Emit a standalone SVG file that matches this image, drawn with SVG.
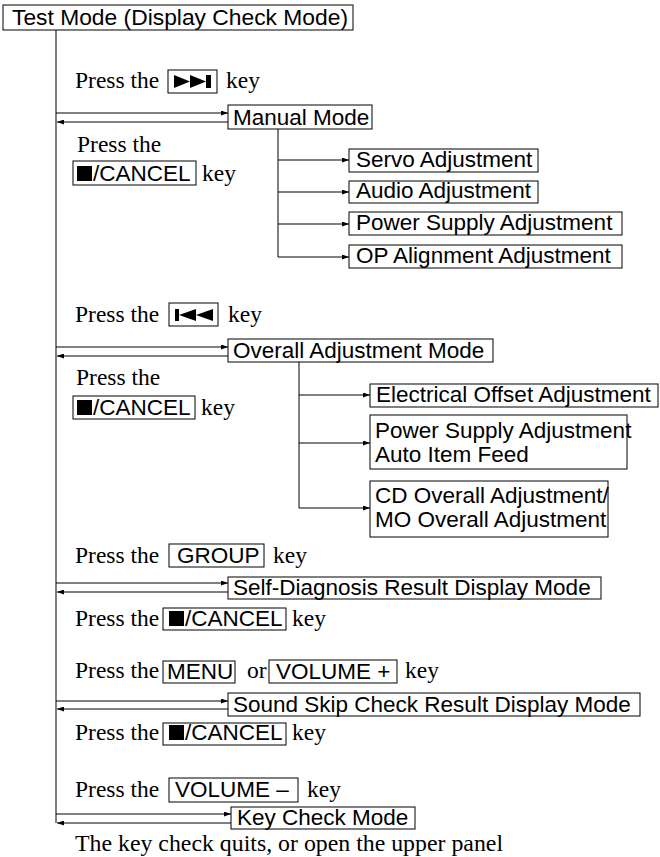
<svg xmlns="http://www.w3.org/2000/svg" width="660" height="857" viewBox="0 0 660 857">
<style>
.sans{font-family:"Liberation Sans",Arial,sans-serif;font-size:22.5px;fill:#000}
.serif{font-family:"Liberation Serif","Times New Roman",serif;font-size:23.5px;fill:#000}
.box{fill:#fff;stroke:#000;stroke-width:1}
.ln{stroke:#000;stroke-width:1;fill:none}
.main{stroke:#555;stroke-width:1.5;fill:none}
.ic{fill:#000;stroke:none}
</style>
<defs>
<marker id="ah" markerUnits="userSpaceOnUse" markerWidth="7" markerHeight="5" refX="7" refY="2.5" orient="auto">
<path d="M0,0 L7,2.5 L0,5 z" fill="#000"/>
</marker>
</defs>
<rect width="660" height="857" fill="#fff"/>

<g id="connectors">
<line class="main" x1="56" y1="30" x2="56" y2="823"/>
<line class="ln" x1="56" y1="113" x2="228" y2="113" marker-end="url(#ah)"/>
<line class="ln" x1="228" y1="122" x2="57" y2="122" marker-end="url(#ah)"/>
<line class="ln" x1="278" y1="129" x2="278" y2="257"/>
<line class="ln" x1="278" y1="160" x2="349" y2="160" marker-end="url(#ah)"/>
<line class="ln" x1="278" y1="192" x2="349" y2="192" marker-end="url(#ah)"/>
<line class="ln" x1="278" y1="224" x2="349" y2="224" marker-end="url(#ah)"/>
<line class="ln" x1="278" y1="257" x2="349" y2="257" marker-end="url(#ah)"/>
<line class="ln" x1="56" y1="347" x2="228" y2="347" marker-end="url(#ah)"/>
<line class="ln" x1="228" y1="356" x2="57" y2="356" marker-end="url(#ah)"/>
<line class="ln" x1="299" y1="362" x2="299" y2="508"/>
<line class="ln" x1="299" y1="395" x2="370" y2="395" marker-end="url(#ah)"/>
<line class="ln" x1="299" y1="443" x2="370" y2="443" marker-end="url(#ah)"/>
<line class="ln" x1="299" y1="508" x2="370" y2="508" marker-end="url(#ah)"/>
<line class="ln" x1="56" y1="583" x2="228" y2="583" marker-end="url(#ah)"/>
<line class="ln" x1="228" y1="592" x2="57" y2="592" marker-end="url(#ah)"/>
<line class="ln" x1="56" y1="701" x2="228" y2="701" marker-end="url(#ah)"/>
<line class="ln" x1="228" y1="709" x2="57" y2="709" marker-end="url(#ah)"/>
<line class="ln" x1="56" y1="814" x2="231" y2="814" marker-end="url(#ah)"/>
<line class="ln" x1="231" y1="823" x2="57" y2="823" marker-end="url(#ah)"/>
</g>

<g id="test-mode">
<rect class="box" x="3" y="5" width="350" height="25"/>
<text class="sans" x="12" y="25" textLength="336" lengthAdjust="spacingAndGlyphs">Test Mode (Display Check Mode)</text>
</g>

<g id="label-next">
<text class="serif" x="75" y="88">Press the</text>
<rect class="box" x="168" y="70" width="49" height="23"/>
<polygon class="ic" points="174,75 174,88 190,81.5"/>
<polygon class="ic" points="190,75 190,88 206,81.5"/>
<rect class="ic" x="206" y="75" width="5" height="13"/>
<text class="serif" x="226" y="88">key</text>
</g>

<g id="manual-mode">
<rect class="box" x="228" y="105" width="144" height="24"/>
<text class="sans" x="233" y="125">Manual Mode</text>
</g>

<g id="label-cancel-1">
<text class="serif" x="77" y="152">Press the</text>
<rect class="box" x="73" y="161" width="123" height="24"/>
<rect class="ic" x="77" y="166" width="15" height="15"/>
<text class="sans" x="93" y="181">/CANCEL</text>
<text class="serif" x="202" y="181">key</text>
</g>

<g id="servo">
<rect class="box" x="349" y="149" width="189" height="23"/>
<text class="sans" x="356" y="167">Servo Adjustment</text>
</g>
<g id="audio">
<rect class="box" x="349" y="181" width="189" height="22"/>
<text class="sans" x="356" y="198">Audio Adjustment</text>
</g>
<g id="power-supply">
<rect class="box" x="349" y="212" width="273" height="23"/>
<text class="sans" x="356" y="230">Power Supply Adjustment</text>
</g>
<g id="op-alignment">
<rect class="box" x="349" y="245" width="273" height="23"/>
<text class="sans" x="356" y="263">OP Alignment Adjustment</text>
</g>

<g id="label-prev">
<text class="serif" x="75" y="322">Press the</text>
<rect class="box" x="169" y="303" width="49" height="23"/>
<rect class="ic" x="175" y="309" width="4" height="12"/>
<polygon class="ic" points="179,315 196,309 196,321"/>
<polygon class="ic" points="196,315 213,309 213,321"/>
<text class="serif" x="228" y="322">key</text>
</g>

<g id="overall-mode">
<rect class="box" x="228" y="339" width="265" height="23"/>
<text class="sans" x="233" y="358">Overall Adjustment Mode</text>
</g>

<g id="label-cancel-2">
<text class="serif" x="76" y="385">Press the</text>
<rect class="box" x="73" y="396" width="122" height="23"/>
<rect class="ic" x="77" y="400" width="15" height="15"/>
<text class="sans" x="93" y="415">/CANCEL</text>
<text class="serif" x="201" y="415">key</text>
</g>

<g id="electrical-offset">
<rect class="box" x="370" y="384" width="288" height="23"/>
<text class="sans" x="376" y="402">Electrical Offset Adjustment</text>
</g>
<g id="power-auto">
<rect class="box" x="370" y="415" width="257" height="54"/>
<text class="sans" x="375" y="438">Power Supply Adjustment</text>
<text class="sans" x="375" y="462">Auto Item Feed</text>
</g>
<g id="cd-mo-overall">
<rect class="box" x="370" y="481" width="238" height="56"/>
<text class="sans" x="375" y="503">CD Overall Adjustment/</text>
<text class="sans" x="375" y="527">MO Overall Adjustment</text>
</g>

<g id="label-group">
<text class="serif" x="75" y="563">Press the</text>
<rect class="box" x="169" y="544" width="95" height="23"/>
<text class="sans" x="177" y="563">GROUP</text>
<text class="serif" x="273" y="563">key</text>
</g>

<g id="self-diagnosis">
<rect class="box" x="228" y="577" width="373" height="22"/>
<text class="sans" x="233" y="595">Self-Diagnosis Result Display Mode</text>
</g>

<g id="label-cancel-3">
<text class="serif" x="75" y="626">Press the</text>
<rect class="box" x="163" y="608" width="123" height="22"/>
<rect class="ic" x="169" y="611" width="15" height="15"/>
<text class="sans" x="185" y="626">/CANCEL</text>
<text class="serif" x="292" y="626">key</text>
</g>

<g id="label-menu">
<text class="serif" x="75" y="678">Press the</text>
<rect class="box" x="163" y="661" width="72" height="22"/>
<text class="sans" x="167" y="679">MENU</text>
<text class="serif" x="247" y="678">or</text>
<rect class="box" x="269" y="660" width="128" height="23"/>
<text class="sans" x="276" y="679">VOLUME +</text>
<text class="serif" x="405" y="678">key</text>
</g>

<g id="sound-skip">
<rect class="box" x="228" y="693" width="412" height="23"/>
<text class="sans" x="233" y="712">Sound Skip Check Result Display Mode</text>
</g>

<g id="label-cancel-4">
<text class="serif" x="75" y="740">Press the</text>
<rect class="box" x="163" y="723" width="123" height="22"/>
<rect class="ic" x="169" y="725" width="15" height="15"/>
<text class="sans" x="185" y="740">/CANCEL</text>
<text class="serif" x="292" y="740">key</text>
</g>

<g id="label-volume-minus">
<text class="serif" x="75" y="797">Press the</text>
<rect class="box" x="169" y="778" width="129" height="24"/>
<text class="sans" x="175" y="797">VOLUME –</text>
<text class="serif" x="307" y="797">key</text>
</g>

<g id="key-check">
<rect class="box" x="231" y="807" width="184" height="22"/>
<text class="sans" x="237" y="825">Key Check Mode</text>
</g>

<g id="label-quit">
<text class="serif" x="75" y="851" style="font-size:23px" textLength="428" lengthAdjust="spacingAndGlyphs">The key check quits, or open the upper panel</text>
</g>
</svg>
